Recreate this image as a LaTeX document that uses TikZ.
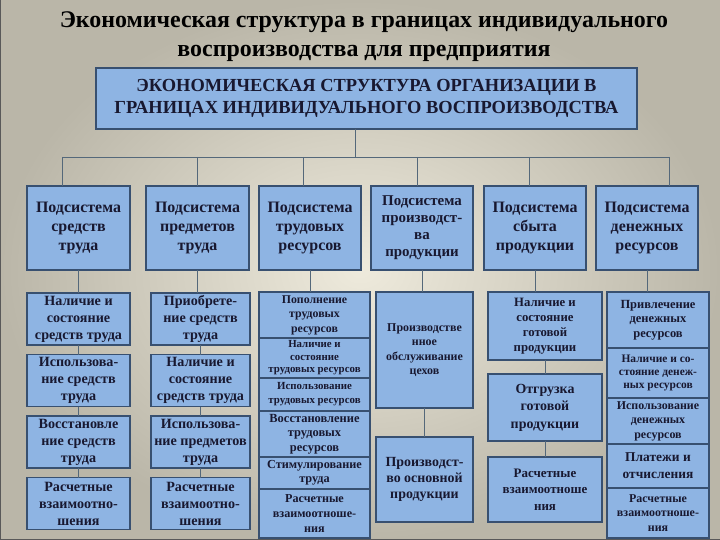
\documentclass[tikz,border=0pt]{standalone}
\usepackage{fontspec}
\setmainfont{Liberation Serif}
\usetikzlibrary{positioning}

\definecolor{boxfill}{RGB}{142,180,227}
\definecolor{boxline}{RGB}{56,80,112}
\definecolor{wirecol}{RGB}{84,104,122}
\definecolor{ink}{RGB}{24,24,48}
\definecolor{bgin}{RGB}{238,234,220}
\definecolor{bgout}{RGB}{186,182,168}

\begin{document}
\begin{tikzpicture}[x=1bp,y=-1bp,
  ttl/.style={font=\fontsize{24}{29}\selectfont\bfseries,align=center,text=black},
  box/.style={draw=boxline,fill=boxfill,line width=1.6bp,align=center,inner sep=1bp,outer sep=0pt,text=ink},
  hdr/.style={box,anchor=north west,minimum width=102bp,minimum height=84bp,font=\fontsize{16}{19}\selectfont\bfseries},
  sub/.style={box,font=\fontsize{14.2}{17}\selectfont\bfseries},
  wire/.style={draw=wirecol,line width=0.9bp}
]
\useasboundingbox (0,0) rectangle (720,540);
\fill[inner color=bgin,outer color=bgout] (0,0) rectangle (720,540);
\draw[line width=2.5bp,black!65] (0,0) -- (0,540) -- (720,540);

% title
\node[ttl] (title) at (364,37) {Экономическая структура в границах индивидуального\\воспроизводства для предприятия};

% top box
\node[box,anchor=north west,minimum width=541bp,minimum height=61bp,font=\fontsize{18.5}{22}\selectfont\bfseries] (top) at (96,68)
  {ЭКОНОМИЧЕСКАЯ СТРУКТУРА ОРГАНИЗАЦИИ В\\ГРАНИЦАХ ИНДИВИДУАЛЬНОГО ВОСПРОИЗВОДСТВА};

% subsystems
\node[hdr,minimum width=103bp] (h1) at (27,186) {Подсистема\\средств\\труда};
\node[hdr,minimum width=103bp] (h2) at (146,186) {Подсистема\\предметов\\труда};
\node[hdr] (h3) at (259,186) {Подсистема\\трудовых\\ресурсов};
\node[hdr,font=\fontsize{15}{17}\selectfont\bfseries] (h4) at (371,186) {Подсистема\\производст-\\ва\\продукции};
\node[hdr] (h5) at (484,186) {Подсистема\\сбыта\\продукции};
\node[hdr] (h6) at (596,186) {Подсистема\\денежных\\ресурсов};

% bus
\coordinate (busL) at (62,157);
\coordinate (busR) at (669,157);
\draw[wire] ([xshift=-11bp]top.south) -- ([xshift=-11bp]top.south |- busL);
\draw[wire] (busL) -- (busR);
\draw[wire] (busL) -- (h1.north -| busL);
\draw[wire] (busR) -- (h6.north -| busR);
\foreach \h/\dx in {h2/0,h3/-7,h4/-5,h5/-6}
  \draw[wire] ([xshift=\dx bp]\h.north |- busL) -- ([xshift=\dx bp]\h.north);

% column 1
\begin{scope}[every node/.append style={minimum width=103bp,minimum height=52bp}]
\node[sub,anchor=north west] (c1a) at (27,293) {Наличие и\\состояние\\средств труда};
\node[sub,below=9.5bp of c1a] (c1b) {Использова-\\ние средств\\труда};
\node[sub,below=9.5bp of c1b] (c1c) {Восстановле\\ние средств\\труда};
\node[sub,below=9.5bp of c1c] (c1d) {Расчетные\\взаимоотно-\\шения};
\end{scope}

% column 2
\begin{scope}[every node/.append style={minimum width=99bp,minimum height=52bp}]
\node[sub,anchor=north west] (c2a) at (151,293) {Приобрете-\\ние средств\\труда};
\node[sub,below=9.5bp of c2a] (c2b) {Наличие и\\состояние\\средств труда};
\node[sub,below=9.5bp of c2b] (c2c) {Использова-\\ние предметов\\труда};
\node[sub,below=9.5bp of c2c] (c2d) {Расчетные\\взаимоотно-\\шения};
\end{scope}

% column 3
\begin{scope}[every node/.append style={minimum width=111bp}]
\node[sub,anchor=north west,minimum height=46bp,font=\fontsize{11.9}{14.5}\selectfont\bfseries] (c3a) at (259,292) {Пополнение\\трудовых\\ресурсов};
\node[sub,minimum height=40bp,below=0pt of c3a,font=\fontsize{10.9}{12.5}\selectfont\bfseries] (c3b) {Наличие и\\состояние\\трудовых ресурсов};
\node[sub,minimum height=33bp,below=0pt of c3b,font=\fontsize{10.9}{14}\selectfont\bfseries] (c3c) {Использование\\трудовых ресурсов};
\node[sub,minimum height=46bp,below=0pt of c3c,font=\fontsize{12.5}{14.5}\selectfont\bfseries] (c3d) {Восстановление\\трудовых\\ресурсов};
\node[sub,minimum height=32bp,below=0pt of c3d,font=\fontsize{12.3}{14.5}\selectfont\bfseries] (c3e) {Стимулирование\\труда};
\node[sub,minimum height=49bp,below=0pt of c3e,font=\fontsize{12.2}{15}\selectfont\bfseries] (c3f) {Расчетные\\взаимоотноше-\\ния};
\end{scope}

% column 4
\begin{scope}[every node/.append style={minimum width=97bp}]
\node[sub,anchor=north west,minimum height=116bp,font=\fontsize{12}{14.5}\selectfont\bfseries] (c4a) at (376,292) {Производстве\\нное\\обслуживание\\цехов};
\node[sub,minimum height=85bp,below=29bp of c4a,font=\fontsize{14}{16}\selectfont\bfseries] (c4b) {Производст-\\во основной\\продукции};
\end{scope}

% column 5
\begin{scope}[every node/.append style={minimum width=114bp}]
\node[sub,anchor=north west,minimum height=68bp,font=\fontsize{12.8}{15}\selectfont\bfseries] (c5a) at (488,292) {Наличие и\\состояние\\готовой\\продукции};
\node[sub,minimum height=67bp,below=14bp of c5a,font=\fontsize{14}{17.5}\selectfont\bfseries] (c5b) {Отгрузка\\готовой\\продукции};
\node[sub,minimum height=65bp,below=16bp of c5b,font=\fontsize{13}{16.5}\selectfont\bfseries] (c5c) {Расчетные\\взаимоотноше\\ния};
\end{scope}

% column 6
\begin{scope}[every node/.append style={minimum width=102bp}]
\node[sub,anchor=north west,minimum height=56bp,font=\fontsize{12.5}{14.5}\selectfont\bfseries] (c6a) at (607,292) {Привлечение\\денежных\\ресурсов};
\node[sub,minimum height=50bp,below=0pt of c6a,font=\fontsize{11.5}{13}\selectfont\bfseries] (c6b) {Наличие и со-\\стояние денеж-\\ных ресурсов};
\node[sub,minimum height=46bp,below=0pt of c6b,font=\fontsize{12}{14.5}\selectfont\bfseries] (c6c) {Использование\\денежных\\ресурсов};
\node[sub,minimum height=44bp,below=0pt of c6c,font=\fontsize{13.5}{17}\selectfont\bfseries] (c6d) {Платежи и\\отчисления};
\node[sub,minimum height=50bp,below=0pt of c6d,font=\fontsize{12}{14.5}\selectfont\bfseries] (c6e) {Расчетные\\взаимоотноше-\\ния};
\end{scope}

% header to column
\foreach \n in {1,...,6}
  \draw[wire] (h\n.south) -- (h\n.south |- c\n a.north);
% inside columns
\draw[wire] (c1a) -- (c1b);
\draw[wire] (c1b) -- (c1c);
\draw[wire] (c1c) -- (c1d);
\draw[wire] (c2a) -- (c2b);
\draw[wire] (c2b) -- (c2c);
\draw[wire] (c2c) -- (c2d);
\draw[wire] (c4a) -- (c4b);
\draw[wire] (c5a) -- (c5b);
\draw[wire] (c5b) -- (c5c);
\end{tikzpicture}
\end{document}
